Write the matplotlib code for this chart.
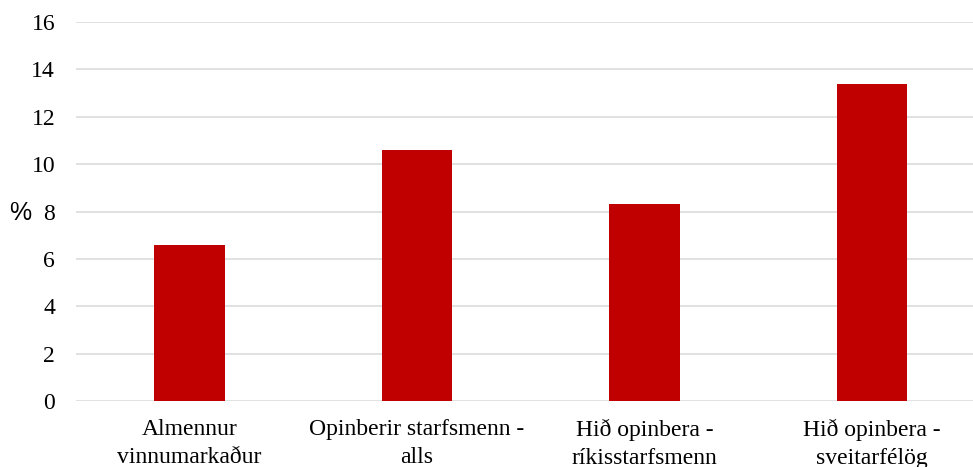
import matplotlib
matplotlib.use("Agg")
import matplotlib.pyplot as plt
import numpy as np

# categories and values (%)
categories = ["Almennur\nvinnumarkaður", "Opinberir starfsmenn -\nalls",
              "Hið opinbera -\nríkisstarfsmenn", "Hið opinbera -\nsveitarfélög"]
values = [6.6, 10.6, 8.3, 13.4]
yticks = [0, 2, 4, 6, 8, 10, 12, 14, 16]

plt.rcParams['font.family'] = ['Liberation Serif', 'DejaVu Serif']

fig = plt.figure(figsize=(9.73, 4.67), dpi=100)
ax = fig.add_axes([0.0781, 0.1413, 0.9347, 0.8116])

x = np.arange(len(categories))
ax.bar(x, values, width=0.31, color='#C00000', zorder=3)

ax.set_xlim(-0.5, len(categories) - 0.5)
ax.set_ylim(0, 16)
ax.set_yticks(yticks)
ax.set_yticklabels([str(t) for t in yticks])
ax.set_xticks(x)
ax.set_xticklabels(categories, linespacing=1.45)

ax.grid(axis='y', color='#D9D9D9', linewidth=1.1, zorder=0)
ax.tick_params(axis='both', length=0, labelsize=17)
ax.tick_params(axis='y', pad=15)
ax.tick_params(axis='x', pad=13)
for s in ax.spines.values():
    s.set_visible(False)

fig.text(9 / 973, 1 - 213 / 467, '%', fontsize=18, family='Liberation Sans',
         ha='left', va='center')

fig.savefig('out.png', dpi=100)
